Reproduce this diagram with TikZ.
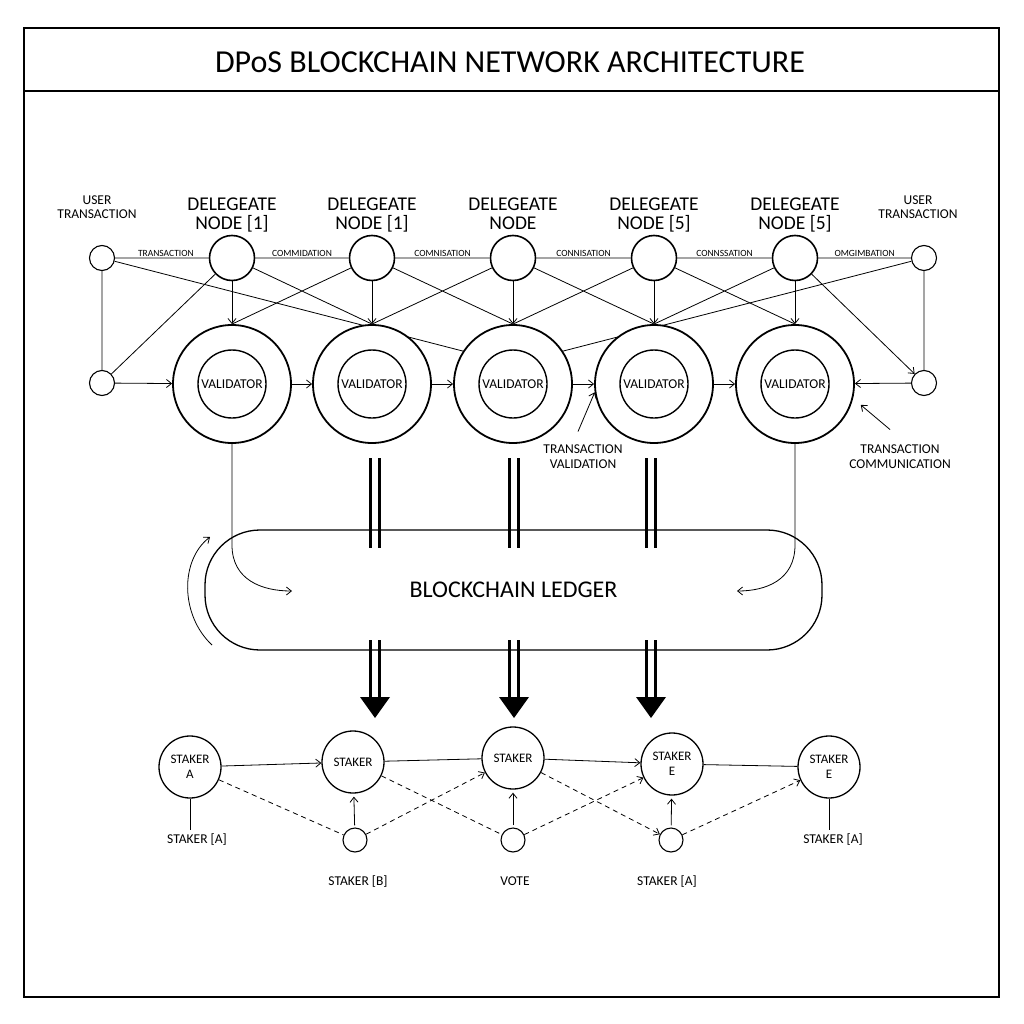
\documentclass[tikz,border=0pt]{standalone}
\usepackage{fontspec}
\setmainfont{Carlito}
\usetikzlibrary{arrows.meta, positioning}

\begin{document}
\begin{tikzpicture}[x = 1pt, y = -1pt,
    wire/.style = {line width = 0.8pt},
    arr/.style = {wire, -{Straight Barb[length = 5pt, width = 8pt]}},
    dashline/.style = {wire, dash pattern = on 5pt off 4pt},
    user/.style = {circle, draw, line width = 1.1pt, minimum size = 25pt, inner sep = 0pt},
    delegate/.style = {circle, draw, line width = 1.6pt, minimum size = 45pt, inner sep = 0pt},
    dlabel/.style = {align = center, inner sep = 1pt, font = \fontsize{19.5}{19.5}\selectfont},
    ulabel/.style = {align = center, font = \fontsize{13.5}{14.5}\selectfont},
    wlabel/.style = {font = \fontsize{9.5}{10}\selectfont, inner sep = 1.5pt},
    validator/.style = {circle, draw, fill = white, line width = 1.8pt, minimum size = 118pt, inner sep = 0pt},
    core/.style = {circle, draw, line width = 1.4pt, minimum size = 68pt, inner sep = 0pt, font = \fontsize{13.5}{14}\selectfont},
    ledger/.style = {draw, line width = 1.3pt, rounded corners = 55pt, minimum width = 617pt, minimum height = 120pt, font = \fontsize{24}{26}\selectfont},
    bar/.style = {line width = 3.8pt},
    staker/.style = {circle, draw, line width = 1.3pt, minimum size = 62pt, inner sep = 0pt, align = center, font = \fontsize{13}{15}\selectfont},
    vote/.style = {circle, draw, line width = 1.1pt, minimum size = 24pt, inner sep = 0pt},
    slabel/.style = {text height = 9pt, text depth = 3pt, font = \fontsize{13.5}{15}\selectfont},
    note/.style = {align = center, font = \fontsize{13.5}{15}\selectfont}]
    \useasboundingbox (0,0) rectangle (1024,1024);
    \draw[line width = 1.3pt] (24,28) rectangle (999,997) (24,91) -- (999,91);
    \node[font = \fontsize{32}{34}\selectfont] (title) at (510,62) {DPoS BLOCKCHAIN NETWORK ARCHITECTURE};

    \node[user] (u1) at (102,258) {};
    \node[user] (u2) at (924,258) {};
    \node[user] (u3) at (102,383) {};
    \node[user] (u4) at (924,383) {};
    \node[ulabel] (ul1) at (97,207) {USER\\TRANSACTION};
    \node[ulabel] (ul2) at (918,207) {USER\\TRANSACTION};
    \foreach \i/\x/\lab in {1/232/{NODE [1]}, 2/372/{NODE [1]}, 3/513/NODE, 4/654/{NODE [5]}, 5/795/{NODE [5]}} {
        \node[delegate] (d\i) at (\x,258) {};
        \node[dlabel, above = -2pt of d\i] (dl\i) {DELEGEATE\\\lab\strut};
    }

    \coordinate (hub) at (513,364);
    \draw[wire] (u1) -- (hub) (u2) -- (hub);
    \foreach \i/\x in {1/232, 2/372, 3/513, 4/654, 5/795} {
        \node[validator] (v\i) at (\x,384) {};
        \node[core] (c\i) at (v\i) {VALIDATOR};
    }

    \draw[wire]
        (u1) -- node[wlabel, above, xshift = 4pt]{TRANSACTION} (d1)
        (d1) -- node[wlabel, above]{COMMIDATION} (d2)
        (d2) -- node[wlabel, above]{COMNISATION} (d3)
        (d3) -- node[wlabel, above]{CONNISATION} (d4)
        (d4) -- node[wlabel, above]{CONNSSATION} (d5)
        (d5) -- node[wlabel, above]{OMGIMBATION} (u2)
        (u1) -- (u3) (u2) -- (u4)
        (d1) -- (u3) (d1) -- (v2.north)
        (d2) -- (v1.north) (d2) -- (v3.north)
        (d3) -- (v2.north) (d3) -- (v4.north)
        (d4) -- (v3.north) (d4) -- (v5.north)
        (d5) -- (v4.north);
    \draw[arr] (d5) -- (u4);
    \foreach \i in {1,...,5} {
        \draw[arr] (d\i) -- (v\i);
    }
    \draw[arr] (u3) -- (v1);
    \draw[arr] (v1) -- (v2);
    \draw[arr] (v2) -- (v3);
    \draw[arr] (v3) -- (v4);
    \draw[arr] (v4) -- (v5);
    \draw[arr] (u4) -- (v5);

    \node[note] (tv) at (583,457) {TRANSACTION\\VALIDATION};
    \node[note] (tc) at (900,457) {TRANSACTION\\COMMUNICATION};
    \draw[arr] ([xshift = -5pt, yshift = 10pt]tv.north) -- (v4.188);
    \draw[arr, shorten >= 10pt] ([xshift = -10pt, yshift = 12pt]tc.north) -- (v5.-14);

    \node[ledger] (ledger) at (513.5,590) {BLOCKCHAIN LEDGER};
    \draw[arr] (v1.south) -- (232,545) .. controls (232,580) and (262,591) .. (292,591);
    \draw[arr] (v5.south) -- (795,545) .. controls (795,580) and (766,591) .. (737,591);
    \draw[arr] (212,645) .. controls (180,615) and (180,560) .. (210,537);
    \foreach \x in {375,514,651} {
        \draw[bar] (\x-4.5,458) -- (\x-4.5,548) (\x+4.5,458) -- (\x+4.5,548);
        \draw[bar] (\x-4.5,640) -- (\x-4.5,700) (\x+4.5,640) -- (\x+4.5,700);
        \fill (\x-15,697) -- (\x+15,697) -- (\x,718) -- cycle;
    }

    \node[staker] (s1) at (190,767) {STAKER\\A};
    \node[staker] (s2) at (353,762) {STAKER};
    \node[staker] (s3) at (513,758) {STAKER};
    \node[staker] (s4) at (672,764) {STAKER\\E};
    \node[staker] (s5) at (829,767) {STAKER\\E};
    \node[vote] (w1) at (355,840) {};
    \node[vote] (w2) at (513,840) {};
    \node[vote] (w3) at (671,840) {};
    \node[slabel] (sl1) at (197,840) {STAKER [A]};
    \node[slabel] (sl5) at (833,840) {STAKER [A]};
    \node[slabel] (wl1) at (358,882) {STAKER [B]};
    \node[slabel] (wl2) at (515,882) {VOTE};
    \node[slabel] (wl3) at (667,882) {STAKER [A]};

    \draw[wire] (s1.south) -- (s1.south |- sl1.north) (s5.south) -- (s5.south |- sl5.north);
    \draw[arr] (s1) -- (s2);
    \draw[wire] (s2) -- (s3);
    \draw[arr] (s3) -- (s4);
    \draw[wire] (s4) -- (s5);
    \draw[dashline] (s1) -- (w1) (s2) -- (w2);
    \draw[dashline, -{Straight Barb[length = 5pt, width = 8pt]}] (w1) -- (s3);
    \draw[dashline, -{Straight Barb[length = 5pt, width = 8pt]}] (w2) -- (s4);
    \draw[dashline, -{Straight Barb[length = 5pt, width = 8pt]}] (s3) -- (w3);
    \draw[dashline, -{Straight Barb[length = 5pt, width = 8pt]}] (w3) -- (s5);
    \foreach \i/\j in {1/2, 2/3, 3/4} {
        \draw[arr, shorten <= 2pt, shorten >= 3pt] (w\i) -- (s\j);
    }
\end{tikzpicture}
\end{document}
